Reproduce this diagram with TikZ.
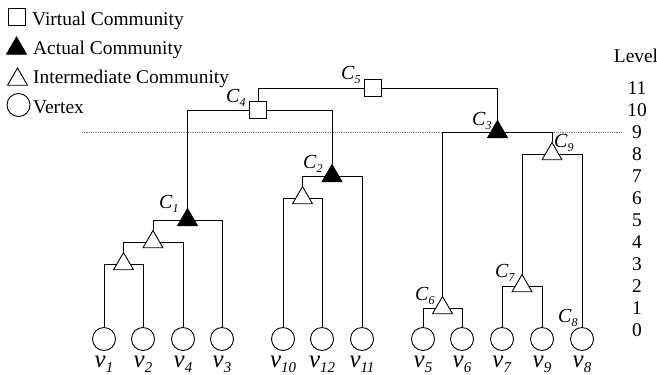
\documentclass[tikz,border=0pt]{standalone}
\usepackage{fontspec}
\setmainfont{Liberation Serif}
\usetikzlibrary{shapes.geometric}
\newcommand{\cname}[1]{\textit{C}\raisebox{-4bp}{\fontsize{12}{12}\selectfont\textit{#1}}}
\newcommand{\vname}[1]{\textit{v}\raisebox{-5bp}{\fontsize{15}{15}\selectfont\textit{#1}}}

\begin{document}
\begin{tikzpicture}[x=1bp, y=-1bp,
    vtx/.style={draw, circle, minimum size=23bp, inner sep=0pt, line width=0.9bp},
    tri/.style={draw, regular polygon, regular polygon sides=3, minimum size=23bp, inner sep=0pt, fill=white, line width=0.9bp},
    act/.style={tri, fill=black},
    virt/.style={draw, rectangle, minimum size=17bp, inner sep=0pt, fill=white, line width=0.9bp},
    key/.style={anchor=base west, inner sep=0pt, font=\fontsize{19.5}{20}\selectfont},
    clbl/.style={anchor=base west, inner sep=0pt, font=\fontsize{20}{20}\selectfont},
    vlbl/.style={anchor=base, inner sep=0pt, font=\fontsize{25}{25}\selectfont},
    lvl/.style={inner sep=0pt, font=\fontsize{19.5}{20}\selectfont},
    link/.style={line width=0.9bp}
]
\useasboundingbox (0,0) rectangle (657,374);

\coordinate (dotl) at (82,132);
\coordinate (dotr) at (622,132);
\draw[densely dotted, gray, line width=0.8bp] (dotl) -- (dotr);

\node[virt] (keyvirt) at (16.5,17)   {};
\node[act]  (keyact)  at (16.5,48.5) {};
\node[tri]  (keyint)  at (17.5,79.5) {};
\node[vtx]  (keyvtx)  at (18.5,105)  {};
\node[key]  (txtvirt) at (32,25)  {Virtual Community};
\node[key]  (txtact)  at (33,54)  {Actual Community};
\node[key]  (txtint)  at (33,83)  {Intermediate Community};
\node[key]  (txtvtx)  at (33,113) {Vertex};

\node[lvl, anchor=base] (lvltitle) at (636,62) {Level};
\foreach \k in {0,...,11}
    \node[lvl] (lvl\k) at (637,{330-22*\k}) {\k};

\node[vtx] (v1)  at (104,339) {};
\node[vtx] (v2)  at (143,339) {};
\node[vtx] (v4)  at (183,339) {};
\node[vtx] (v3)  at (222,339) {};
\node[vtx] (v10) at (283,339) {};
\node[vtx] (v12) at (322,339) {};
\node[vtx] (v11) at (362,339) {};
\node[vtx] (v5)  at (423,339) {};
\node[vtx] (v6)  at (462,339) {};
\node[vtx] (v7)  at (502,339) {};
\node[vtx] (v9)  at (542,339) {};
\node[vtx] (v8)  at (582,339) {};

\node[tri]  (ta) at (123.5,264) {};
\node[tri]  (tb) at (153,242)   {};
\node[act]  (c1) at (187.5,220) {};
\node[tri]  (td) at (302.5,198) {};
\node[act]  (c2) at (332,176)   {};
\node[virt] (c4) at (258,110)   {};
\node[virt] (c5) at (373,88)    {};
\node[tri]  (c6) at (442.5,308) {};
\node[tri]  (c7) at (522,286)   {};
\node[tri]  (c9) at (552,154)   {};
\node[act]  (c3) at (497.5,132) {};

\draw[link] (ta) -| (v1);
\draw[link] (ta) -| (v2);
\draw[link] (tb) -| (ta);
\draw[link] (tb) -| (v4);
\draw[link] (c1) -| (tb);
\draw[link] (c1) -| (v3);
\draw[link] (td) -| (v10);
\draw[link] (td) -| (v12);
\draw[link] (c2) -| (td);
\draw[link] (c2) -| (v11);
\draw[link] (c4) -| (c1);
\draw[link] (c4) -| (c2);
\draw[link] (c5) -| (c4);
\draw[link] (c5) -| (c3);
\draw[link] (c6) -| (v5);
\draw[link] (c6) -| (v6);
\draw[link] (c7) -| (v7);
\draw[link] (c7) -| (v9);
\draw[link] (c9) -| (c7);
\draw[link] (c9) -| (v8);
\draw[link] (c3) -| (c6);
\draw[link] (c3) -| (c9);

\node[clbl] (lc1) at (159,208) {\cname{1}};
\node[clbl] (lc2) at (303,168) {\cname{2}};
\node[clbl] (lc3) at (472,125) {\cname{3}};
\node[clbl] (lc4) at (226,102) {\cname{4}};
\node[clbl] (lc5) at (341,79)  {\cname{5}};
\node[clbl] (lc6) at (415,300) {\cname{6}};
\node[clbl] (lc7) at (495,277) {\cname{7}};
\node[clbl] (lc8) at (558,322) {\cname{8}};
\node[clbl] (lc9) at (554,147) {\cname{9}};

\node[vlbl] (lv1)  at (104,367) {\vname{1}};
\node[vlbl] (lv2)  at (143,367) {\vname{2}};
\node[vlbl] (lv4)  at (183,367) {\vname{4}};
\node[vlbl] (lv3)  at (222,367) {\vname{3}};
\node[vlbl] (lv10) at (283,367) {\vname{10}};
\node[vlbl] (lv12) at (322,367) {\vname{12}};
\node[vlbl] (lv11) at (362,367) {\vname{11}};
\node[vlbl] (lv5)  at (423,367) {\vname{5}};
\node[vlbl] (lv6)  at (462,367) {\vname{6}};
\node[vlbl] (lv7)  at (502,367) {\vname{7}};
\node[vlbl] (lv9)  at (542,367) {\vname{9}};
\node[vlbl] (lv8)  at (582,367) {\vname{8}};
\end{tikzpicture}
\end{document}
